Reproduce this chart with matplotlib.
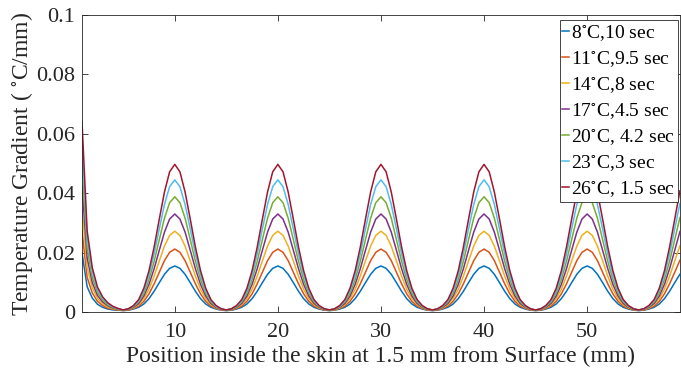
import numpy as np
import matplotlib
matplotlib.use('Agg')
import matplotlib.pyplot as plt

plt.rcParams['font.family'] = ['Liberation Serif', 'DejaVu Serif']
plt.rcParams['mathtext.fontset'] = 'stix'

# position in mm, sampled every 0.5 mm from 1 to 59
position = np.arange(1, 59.01, 0.5)

# temperature gradient (C/mm) for each air temperature / exposure time
g_8 = [0.0200, 0.0085, 0.0047, 0.0026, 0.0016, 0.0010, 0.0007, 0.0006, 0.0005,
       0.0006, 0.0010, 0.0016, 0.0027, 0.0045, 0.0070, 0.0099, 0.0127, 0.0147, 0.0155, 0.0147, 0.0127, 0.0099, 0.0070, 0.0045, 0.0027, 0.0016, 0.0010, 0.0006, 0.0005,
       0.0006, 0.0010, 0.0016, 0.0027, 0.0045, 0.0070, 0.0099, 0.0127, 0.0147, 0.0155, 0.0147, 0.0127, 0.0099, 0.0070, 0.0045, 0.0027, 0.0016, 0.0010, 0.0006, 0.0005,
       0.0006, 0.0010, 0.0016, 0.0027, 0.0045, 0.0070, 0.0099, 0.0127, 0.0147, 0.0155, 0.0147, 0.0127, 0.0099, 0.0070, 0.0045, 0.0027, 0.0016, 0.0010, 0.0006, 0.0005,
       0.0006, 0.0010, 0.0016, 0.0027, 0.0045, 0.0070, 0.0099, 0.0127, 0.0147, 0.0155, 0.0147, 0.0127, 0.0099, 0.0070, 0.0045, 0.0027, 0.0016, 0.0010, 0.0006, 0.0005,
       0.0006, 0.0010, 0.0016, 0.0027, 0.0045, 0.0070, 0.0099, 0.0127, 0.0147, 0.0155, 0.0147, 0.0127, 0.0099, 0.0070, 0.0045, 0.0027, 0.0016, 0.0010, 0.0006, 0.0005,
       0.0006, 0.0010, 0.0016, 0.0027, 0.0045, 0.0070, 0.0099, 0.0127]
g_11 = [0.0273, 0.0117, 0.0064, 0.0036, 0.0022, 0.0013, 0.0009, 0.0007, 0.0005,
        0.0007, 0.0012, 0.0020, 0.0036, 0.0061, 0.0095, 0.0134, 0.0173, 0.0201, 0.0212, 0.0201, 0.0173, 0.0134, 0.0095, 0.0061, 0.0036, 0.0020, 0.0012, 0.0007, 0.0005,
        0.0007, 0.0012, 0.0020, 0.0036, 0.0061, 0.0095, 0.0134, 0.0173, 0.0201, 0.0212, 0.0201, 0.0173, 0.0134, 0.0095, 0.0061, 0.0036, 0.0020, 0.0012, 0.0007, 0.0005,
        0.0007, 0.0012, 0.0020, 0.0036, 0.0061, 0.0095, 0.0134, 0.0173, 0.0201, 0.0212, 0.0201, 0.0173, 0.0134, 0.0095, 0.0061, 0.0036, 0.0020, 0.0012, 0.0007, 0.0005,
        0.0007, 0.0012, 0.0020, 0.0036, 0.0061, 0.0095, 0.0134, 0.0173, 0.0201, 0.0212, 0.0201, 0.0173, 0.0134, 0.0095, 0.0061, 0.0036, 0.0020, 0.0012, 0.0007, 0.0005,
        0.0007, 0.0012, 0.0020, 0.0036, 0.0061, 0.0095, 0.0134, 0.0173, 0.0201, 0.0212, 0.0201, 0.0173, 0.0134, 0.0095, 0.0061, 0.0036, 0.0020, 0.0012, 0.0007, 0.0005,
        0.0007, 0.0012, 0.0020, 0.0036, 0.0061, 0.0095, 0.0134, 0.0174]
g_14 = [0.0350, 0.0150, 0.0082, 0.0046, 0.0028, 0.0017, 0.0011, 0.0008, 0.0006,
        0.0008, 0.0014, 0.0025, 0.0045, 0.0077, 0.0121, 0.0172, 0.0222, 0.0258, 0.0272, 0.0258, 0.0222, 0.0172, 0.0121, 0.0077, 0.0045, 0.0025, 0.0014, 0.0008, 0.0006,
        0.0008, 0.0014, 0.0025, 0.0045, 0.0077, 0.0121, 0.0172, 0.0222, 0.0258, 0.0272, 0.0258, 0.0222, 0.0172, 0.0121, 0.0077, 0.0045, 0.0025, 0.0014, 0.0008, 0.0006,
        0.0008, 0.0014, 0.0025, 0.0045, 0.0077, 0.0121, 0.0172, 0.0222, 0.0258, 0.0272, 0.0258, 0.0222, 0.0172, 0.0121, 0.0077, 0.0045, 0.0025, 0.0014, 0.0008, 0.0006,
        0.0008, 0.0014, 0.0025, 0.0045, 0.0077, 0.0121, 0.0172, 0.0222, 0.0258, 0.0272, 0.0258, 0.0222, 0.0172, 0.0121, 0.0077, 0.0045, 0.0025, 0.0014, 0.0008, 0.0006,
        0.0008, 0.0014, 0.0025, 0.0045, 0.0077, 0.0121, 0.0172, 0.0222, 0.0258, 0.0272, 0.0258, 0.0222, 0.0172, 0.0121, 0.0077, 0.0045, 0.0025, 0.0014, 0.0008, 0.0006,
        0.0008, 0.0014, 0.0025, 0.0045, 0.0077, 0.0121, 0.0172, 0.0223]
g_17 = [0.0426, 0.0182, 0.0099, 0.0056, 0.0034, 0.0021, 0.0013, 0.0009, 0.0006,
        0.0009, 0.0016, 0.0029, 0.0054, 0.0093, 0.0146, 0.0208, 0.0269, 0.0313, 0.0330, 0.0313, 0.0269, 0.0208, 0.0146, 0.0093, 0.0054, 0.0029, 0.0016, 0.0009, 0.0006,
        0.0009, 0.0016, 0.0029, 0.0054, 0.0093, 0.0146, 0.0208, 0.0269, 0.0313, 0.0330, 0.0313, 0.0269, 0.0208, 0.0146, 0.0093, 0.0054, 0.0029, 0.0016, 0.0009, 0.0006,
        0.0009, 0.0016, 0.0029, 0.0054, 0.0093, 0.0146, 0.0208, 0.0269, 0.0313, 0.0330, 0.0313, 0.0269, 0.0208, 0.0146, 0.0093, 0.0054, 0.0029, 0.0016, 0.0009, 0.0006,
        0.0009, 0.0016, 0.0029, 0.0054, 0.0093, 0.0146, 0.0208, 0.0269, 0.0313, 0.0330, 0.0313, 0.0269, 0.0208, 0.0146, 0.0093, 0.0054, 0.0029, 0.0016, 0.0009, 0.0006,
        0.0009, 0.0016, 0.0029, 0.0054, 0.0093, 0.0146, 0.0208, 0.0269, 0.0313, 0.0330, 0.0313, 0.0269, 0.0208, 0.0146, 0.0093, 0.0054, 0.0029, 0.0016, 0.0009, 0.0006,
        0.0009, 0.0016, 0.0029, 0.0054, 0.0093, 0.0146, 0.0208, 0.0271]
g_20 = [0.0500, 0.0213, 0.0116, 0.0066, 0.0040, 0.0024, 0.0015, 0.0010, 0.0006,
        0.0010, 0.0018, 0.0034, 0.0063, 0.0109, 0.0171, 0.0244, 0.0316, 0.0368, 0.0388, 0.0368, 0.0316, 0.0244, 0.0171, 0.0109, 0.0063, 0.0034, 0.0018, 0.0010, 0.0006,
        0.0010, 0.0018, 0.0034, 0.0063, 0.0109, 0.0171, 0.0244, 0.0316, 0.0368, 0.0388, 0.0368, 0.0316, 0.0244, 0.0171, 0.0109, 0.0063, 0.0034, 0.0018, 0.0010, 0.0006,
        0.0010, 0.0018, 0.0034, 0.0063, 0.0109, 0.0171, 0.0244, 0.0316, 0.0368, 0.0388, 0.0368, 0.0316, 0.0244, 0.0171, 0.0109, 0.0063, 0.0034, 0.0018, 0.0010, 0.0006,
        0.0010, 0.0018, 0.0034, 0.0063, 0.0109, 0.0171, 0.0244, 0.0316, 0.0368, 0.0388, 0.0368, 0.0316, 0.0244, 0.0171, 0.0109, 0.0063, 0.0034, 0.0018, 0.0010, 0.0006,
        0.0010, 0.0018, 0.0034, 0.0063, 0.0109, 0.0171, 0.0244, 0.0316, 0.0368, 0.0388, 0.0368, 0.0316, 0.0244, 0.0171, 0.0109, 0.0063, 0.0034, 0.0018, 0.0010, 0.0006,
        0.0010, 0.0018, 0.0034, 0.0063, 0.0109, 0.0171, 0.0244, 0.0318]
g_23 = [0.0574, 0.0245, 0.0134, 0.0076, 0.0046, 0.0028, 0.0017, 0.0011, 0.0007,
        0.0011, 0.0020, 0.0038, 0.0072, 0.0124, 0.0196, 0.0280, 0.0362, 0.0422, 0.0445, 0.0422, 0.0362, 0.0280, 0.0196, 0.0124, 0.0072, 0.0038, 0.0020, 0.0011, 0.0007,
        0.0011, 0.0020, 0.0038, 0.0072, 0.0124, 0.0196, 0.0280, 0.0362, 0.0422, 0.0445, 0.0422, 0.0362, 0.0280, 0.0196, 0.0124, 0.0072, 0.0038, 0.0020, 0.0011, 0.0007,
        0.0011, 0.0020, 0.0038, 0.0072, 0.0124, 0.0196, 0.0280, 0.0362, 0.0422, 0.0445, 0.0422, 0.0362, 0.0280, 0.0196, 0.0124, 0.0072, 0.0038, 0.0020, 0.0011, 0.0007,
        0.0011, 0.0020, 0.0038, 0.0072, 0.0124, 0.0196, 0.0280, 0.0362, 0.0422, 0.0445, 0.0422, 0.0362, 0.0280, 0.0196, 0.0124, 0.0072, 0.0038, 0.0020, 0.0011, 0.0007,
        0.0011, 0.0020, 0.0038, 0.0072, 0.0124, 0.0196, 0.0280, 0.0362, 0.0422, 0.0445, 0.0422, 0.0362, 0.0280, 0.0196, 0.0124, 0.0072, 0.0038, 0.0020, 0.0011, 0.0007,
        0.0011, 0.0020, 0.0038, 0.0072, 0.0124, 0.0196, 0.0280, 0.0365]
g_26 = [0.0641, 0.0273, 0.0149, 0.0084, 0.0051, 0.0031, 0.0019, 0.0012, 0.0007,
        0.0011, 0.0022, 0.0042, 0.0080, 0.0139, 0.0219, 0.0313, 0.0404, 0.0472, 0.0497, 0.0472, 0.0404, 0.0313, 0.0219, 0.0139, 0.0080, 0.0042, 0.0022, 0.0011, 0.0007,
        0.0011, 0.0022, 0.0042, 0.0080, 0.0139, 0.0219, 0.0313, 0.0404, 0.0472, 0.0497, 0.0472, 0.0404, 0.0313, 0.0219, 0.0139, 0.0080, 0.0042, 0.0022, 0.0011, 0.0007,
        0.0011, 0.0022, 0.0042, 0.0080, 0.0139, 0.0219, 0.0313, 0.0404, 0.0472, 0.0497, 0.0472, 0.0404, 0.0313, 0.0219, 0.0139, 0.0080, 0.0042, 0.0022, 0.0011, 0.0007,
        0.0011, 0.0022, 0.0042, 0.0080, 0.0139, 0.0219, 0.0313, 0.0404, 0.0472, 0.0497, 0.0472, 0.0404, 0.0313, 0.0219, 0.0139, 0.0080, 0.0042, 0.0022, 0.0011, 0.0007,
        0.0011, 0.0022, 0.0042, 0.0080, 0.0139, 0.0219, 0.0313, 0.0404, 0.0472, 0.0497, 0.0472, 0.0404, 0.0313, 0.0219, 0.0139, 0.0080, 0.0042, 0.0022, 0.0011, 0.0007,
        0.0011, 0.0022, 0.0042, 0.0080, 0.0139, 0.0219, 0.0313, 0.0408]

series = [g_8, g_11, g_14, g_17, g_20, g_23, g_26]
labels = ['8$^{\\circ}$C,10 sec', '11$^{\\circ}$C,9.5 sec', '14$^{\\circ}$C,8 sec',
          '17$^{\\circ}$C,4.5 sec', '20$^{\\circ}$C, 4.2 sec', '23$^{\\circ}$C,3 sec',
          '26$^{\\circ}$C, 1.5 sec']
# matlab default line colours
colors = ['#0072BD', '#D95319', '#EDB120', '#7E2F8E', '#77AC30', '#4DBEEE', '#A2142F']

x_ticks = [10, 20, 30, 40, 50]
y_ticks = [0, 0.02, 0.04, 0.06, 0.08, 0.1]
y_tick_labels = ['0', '0.02', '0.04', '0.06', '0.08', '0.1']

fig = plt.figure(figsize=(6.81, 3.71), dpi=100)
ax = fig.add_axes([0.1204, 0.159, 0.878, 0.8006])

for vals, lab, c in zip(series, labels, colors):
    ax.plot(position, vals, color=c, linewidth=1.1, label=lab)

ax.set_xlim(1, 59)
ax.set_ylim(0, 0.1)
ax.set_xticks(x_ticks)
ax.set_yticks(y_ticks)
ax.set_yticklabels(y_tick_labels)
ax.tick_params(direction='in', top=True, right=True, length=4, width=0.6,
               labelsize=16, colors='#262626', labelcolor='#262626', pad=5)
ax.tick_params(axis='x', pad=8)
for s in ax.spines.values():
    s.set_linewidth(0.6)
    s.set_color('#262626')

ax.set_xlabel('Position inside the skin at 1.5 mm from Surface (mm)', fontsize=17, color='#262626', labelpad=3)
ax.set_ylabel('Temperature Gradient ( $^{\\circ}$C/mm)', fontsize=17, color='#262626', labelpad=1)

leg = ax.legend(loc='upper right', bbox_to_anchor=(1.0, 0.99), fontsize=14,
                frameon=True, fancybox=False, framealpha=1, edgecolor='#262626',
                handlelength=0.35, handletextpad=0.1, borderpad=0.15,
                labelspacing=0.32, borderaxespad=0.1)
leg.get_frame().set_linewidth(0.6)

plt.savefig('out.png', dpi=100)
